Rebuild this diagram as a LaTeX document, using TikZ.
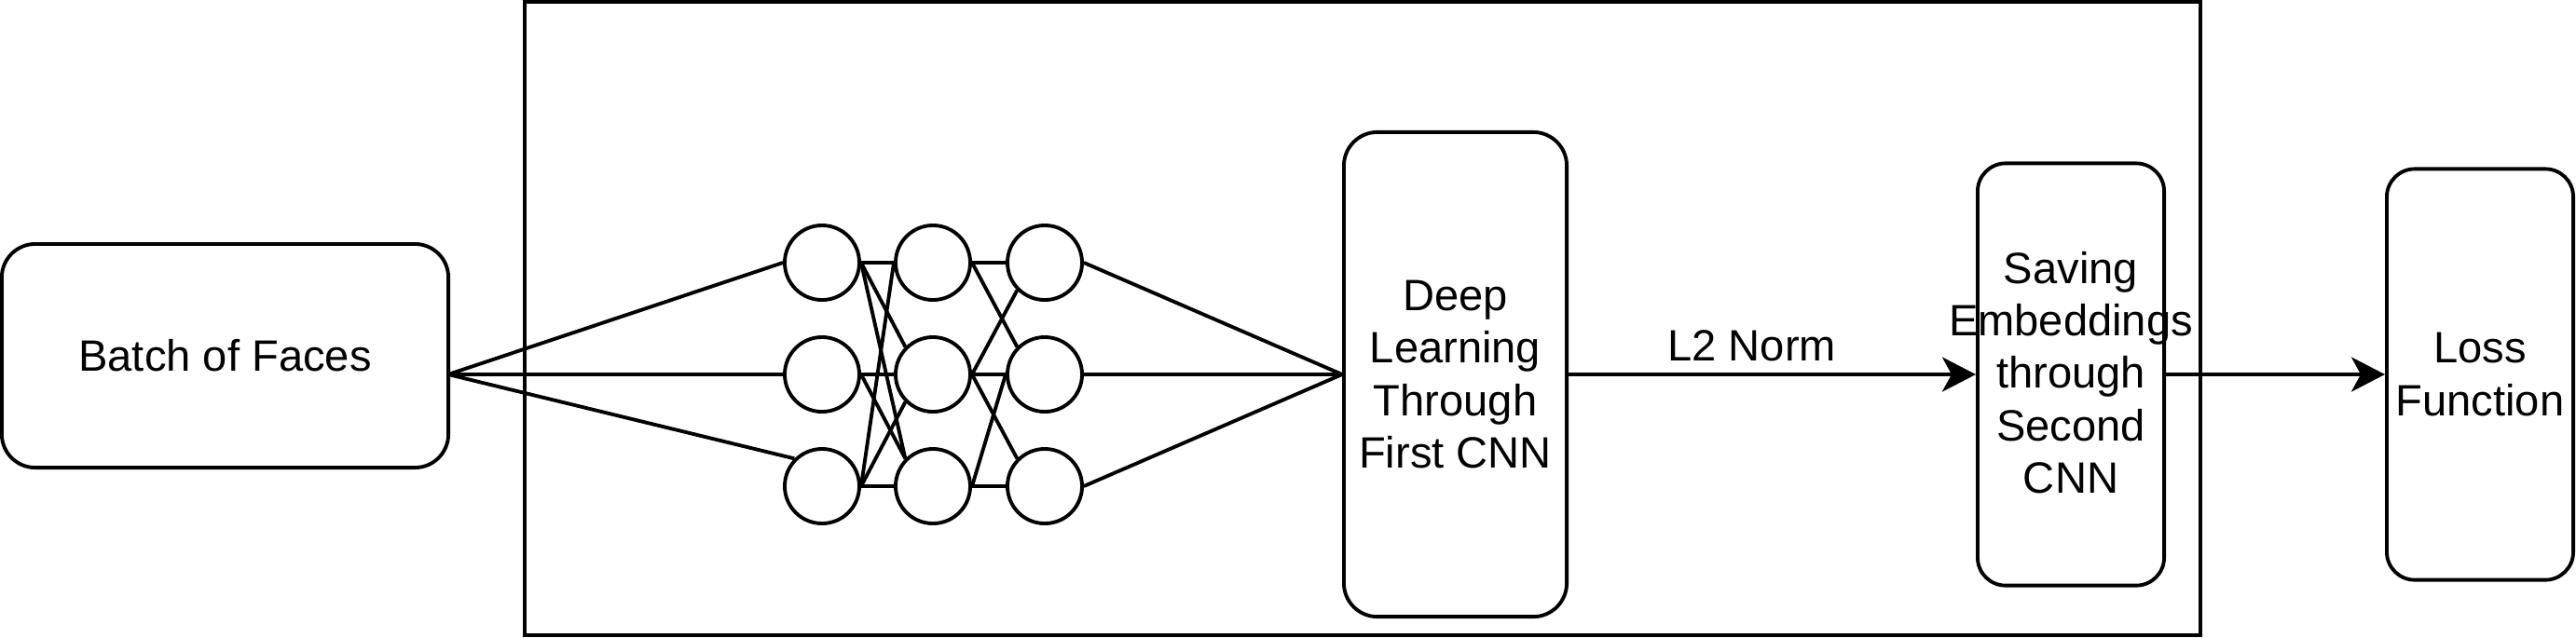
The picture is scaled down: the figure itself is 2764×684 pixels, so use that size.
\documentclass[tikz,border=0pt]{standalone}
\usepackage{fontspec}
\setmainfont{Liberation Sans}
\usetikzlibrary{arrows.meta}

\begin{document}
\begin{tikzpicture}[x=0.01cm, y=-0.01cm, line width=1.1pt,
    font=\fontsize{13.4pt}{16pt}\selectfont,
    box/.style={draw, rounded corners=#1, align=center, inner sep=0pt},
    neuron/.style={draw, circle, minimum size=0.8cm, inner sep=0pt},
    flow/.style={-{Stealth[length=0.36cm, width=0.37cm, inset=0.1cm]}}]
                {
    \useasboundingbox (0,0) rectangle (2764,684);

    \draw (563,2) rectangle (2361,682);

    \node[box=0.36cm, minimum width=4.79cm, minimum height=2.4cm] (batch) at (241.5,382) {Batch of Faces};
    \coordinate (fan) at (481,402);

    \node[neuron] (n11) at (882,282) {};
    \node[neuron] (n12) at (882,402) {};
    \node[neuron] (n13) at (882,522) {};
    \node[neuron] (n21) at (1001,282) {};
    \node[neuron] (n22) at (1001,402) {};
    \node[neuron] (n23) at (1001,522) {};
    \node[neuron] (n31) at (1121,282) {};
    \node[neuron] (n32) at (1121,402) {};
    \node[neuron] (n33) at (1121,522) {};

    \node[box=0.36cm, minimum width=2.39cm, minimum height=5.2cm] (deep) at (1561.5,402) {Deep\\Learning\\Through\\First CNN};
    \node[box=0.3cm, minimum width=2cm, minimum height=4.53cm] (save) at (2222,402) {};
    \node[align=center] (savetext) at (2222,400) {Saving\\Embeddings\\through\\Second\\CNN};
    \node[box=0.3cm, minimum width=2cm, minimum height=4.41cm] (loss) at (2661,402) {Loss\\Function};

    \draw (fan) -- (n11.west);
    \draw (fan) -- (n12.west);
    \draw (fan) -- (n13.135);

    \draw (n11.east) -- (n21.west);
    \draw (n11.east) -- (n22.135);
    \draw (n11.east) -- (n23.135);
    \draw (n12.east) -- (n22.west);
    \draw (n12.east) -- (n23.135);
    \draw (n13.east) -- (n21.west);
    \draw (n13.east) -- (n22.225);
    \draw (n13.east) -- (n23.west);

    \draw (n21.east) -- (n31.west);
    \draw (n21.east) -- (n32.135);
    \draw (n22.east) -- (n31.225);
    \draw (n22.east) -- (n32.west);
    \draw (n22.east) -- (n33.135);
    \draw (n23.east) -- (n32.west);
    \draw (n23.east) -- (n33.west);

    \draw (n31.east) -- (deep.west);
    \draw (n32.east) -- (deep.west);
    \draw (n33.east) -- (deep.west);

    \draw[flow] (deep.east) -- node[above, pos=0.45] (l2) {L2 Norm} (save.west);
    \draw[flow] (save.east) -- (loss.west);
}

                \end{tikzpicture}
\end{document}
